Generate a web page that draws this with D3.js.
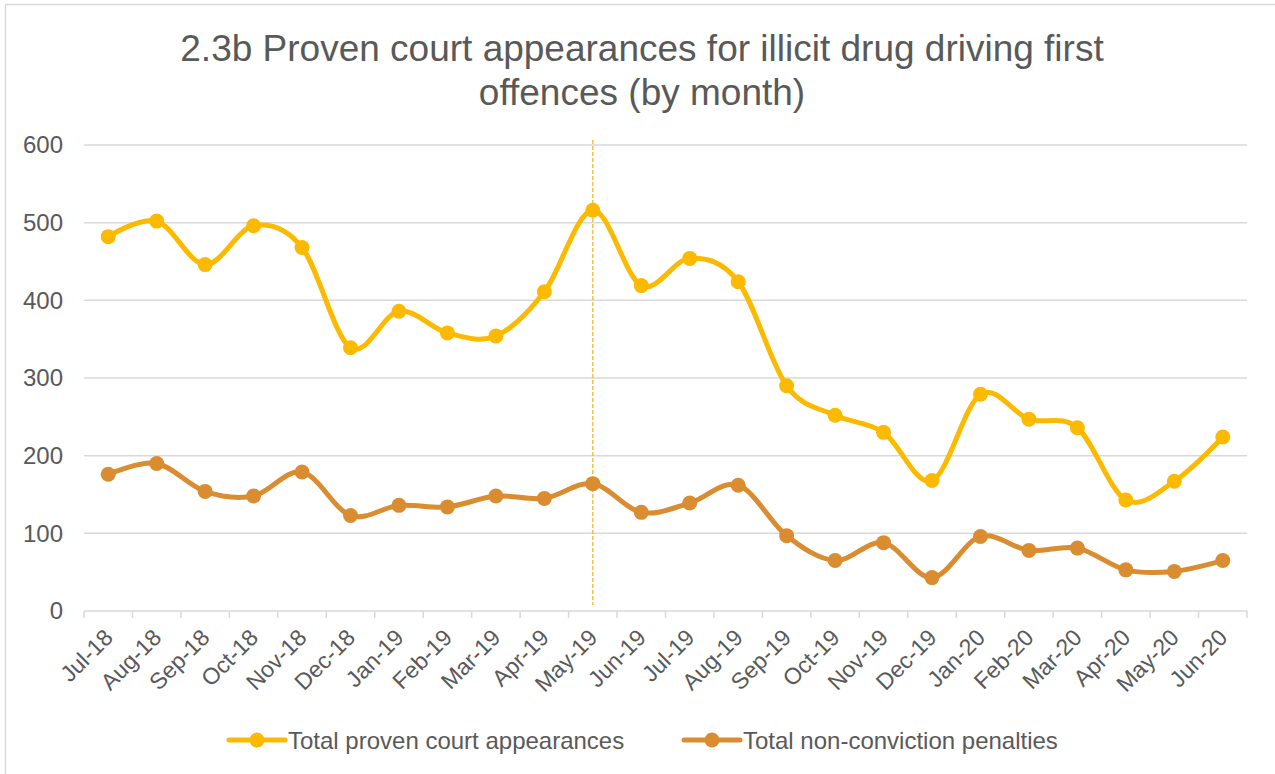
<!DOCTYPE html>
<html>
<head>
<meta charset="utf-8">
<script src="https://cdn.jsdelivr.net/npm/d3@7"></script>
<style>
  html, body { margin: 0; padding: 0; background: #fff; }
  svg { display: block; font-family: "Liberation Sans", Arial, sans-serif; }
</style>
</head>
<body>
<svg id="chart" width="1275" height="774"></svg>
<script>
// Monthly categories, July 2018 – June 2020
const months = ["Jul-18","Aug-18","Sep-18","Oct-18","Nov-18","Dec-18","Jan-19","Feb-19","Mar-19","Apr-19","May-19","Jun-19",
                "Jul-19","Aug-19","Sep-19","Oct-19","Nov-19","Dec-19","Jan-20","Feb-20","Mar-20","Apr-20","May-20","Jun-20"];

// Total proven court appearances
const provenAppearances = [482, 502, 446, 496, 468, 339, 386, 358, 354, 411, 516, 419,
                           454, 424, 290, 252, 230, 168, 279, 247, 236, 143, 167, 224];

// Total non-conviction penalties
const nonConvictionPenalties = [176, 190, 154, 148, 179, 123, 136, 134, 148, 145, 164, 127,
                                139, 162, 97, 65, 88, 43, 96, 78, 81, 53, 51, 65];

const yTicks = [0, 100, 200, 300, 400, 500, 600];
const markerMonth = "May-19";

const seriesNames = ["Total proven court appearances", "Total non-conviction penalties"];
const seriesColors = ["#FBBA00", "#DA8C30"];
const titleLines = ["2.3b Proven court appearances for illicit drug driving first", "offences (by month)"];

const svg = d3.select("#chart");
const textColor = "#595959";
const gridColor = "#D9D9D9";

// Outer chart frame
svg.append("rect")
  .attr("x", 5.5).attr("y", 4.5)
  .attr("width", 1300).attr("height", 800)
  .attr("fill", "none").attr("stroke", gridColor).attr("stroke-width", 1.5);

const plot = { left: 84, right: 1247, top: 145, bottom: 611 };

const x = d3.scaleBand().domain(months).range([plot.left, plot.right]).padding(0);
const y = d3.scaleLinear().domain([0, 600]).range([plot.bottom, plot.top]);
const cx = d => x(d) + x.bandwidth() / 2;

// Title
const title = svg.append("text")
  .attr("text-anchor", "middle")
  .attr("fill", textColor)
  .attr("font-size", 37);
titleLines.forEach((t, i) => {
  title.append("tspan").attr("x", 642).attr("y", 61 + i * 44).text(t);
});

// Horizontal gridlines (excluding baseline)
svg.append("g")
  .selectAll("line")
  .data(yTicks.filter(v => v > 0))
  .join("line")
  .attr("x1", plot.left).attr("x2", plot.right)
  .attr("y1", d => y(d)).attr("y2", d => y(d))
  .attr("stroke", gridColor).attr("stroke-width", 1.5);

// Y axis labels
const yAxis = svg.append("g")
  .attr("transform", `translate(${plot.left},0)`)
  .call(d3.axisLeft(y).tickValues(yTicks).tickSize(0).tickPadding(21));
yAxis.select(".domain").remove();
yAxis.selectAll("text")
  .attr("fill", textColor)
  .attr("font-size", 24)
  .attr("font-family", "Liberation Sans, Arial, sans-serif");

// X axis baseline with boundary ticks
const xAxis = svg.append("g")
  .attr("transform", `translate(0,${plot.bottom})`);
xAxis.append("line")
  .attr("x1", plot.left).attr("x2", plot.right)
  .attr("stroke", gridColor).attr("stroke-width", 1.5);
xAxis.selectAll("line.tick")
  .data(months.concat([null]))
  .join("line")
  .attr("class", "tick")
  .attr("x1", (d, i) => plot.left + i * x.bandwidth())
  .attr("x2", (d, i) => plot.left + i * x.bandwidth())
  .attr("y1", 0).attr("y2", 7)
  .attr("stroke", gridColor).attr("stroke-width", 1.5);

// Rotated month labels
xAxis.selectAll("text")
  .data(months)
  .join("text")
  .attr("text-anchor", "end")
  .attr("fill", textColor)
  .attr("font-size", 23)
  .attr("transform", d => `translate(${cx(d) + 6},${28}) rotate(-45)`)
  .text(d => d);

// Vertical dashed reference line
svg.append("line")
  .attr("x1", cx(markerMonth)).attr("x2", cx(markerMonth))
  .attr("y1", 140).attr("y2", 605)
  .attr("stroke", "#F2B31C").attr("stroke-width", 1.2)
  .attr("stroke-dasharray", "4,2");

// Series lines and markers
const line = d3.line()
  .x((d, i) => cx(months[i]))
  .y(d => y(d))
  .curve(d3.curveCardinal.tension(0));

[provenAppearances, nonConvictionPenalties].forEach((values, si) => {
  const g = svg.append("g");
  g.append("path")
    .datum(values)
    .attr("d", line)
    .attr("fill", "none")
    .attr("stroke", seriesColors[si])
    .attr("stroke-width", 5)
    .attr("stroke-linejoin", "round")
    .attr("stroke-linecap", "round");
  g.selectAll("circle")
    .data(values)
    .join("circle")
    .attr("cx", (d, i) => cx(months[i]))
    .attr("cy", d => y(d))
    .attr("r", 7.5)
    .attr("fill", seriesColors[si]);
});

// Legend
const legendItems = [
  { x: 229, name: seriesNames[0], color: seriesColors[0] },
  { x: 684, name: seriesNames[1], color: seriesColors[1] }
];
const legend = svg.append("g").attr("transform", "translate(0,740)");
legendItems.forEach(it => {
  const g = legend.append("g").attr("transform", `translate(${it.x},0)`);
  g.append("line").attr("x1", 0).attr("x2", 56)
    .attr("stroke", it.color).attr("stroke-width", 5).attr("stroke-linecap", "round");
  g.append("circle").attr("cx", 28).attr("cy", 0).attr("r", 7.5).attr("fill", it.color);
  g.append("text").attr("x", 59).attr("y", 8.5)
    .attr("fill", textColor).attr("font-size", 24)
    .text(it.name);
});
</script>
</body>
</html>
